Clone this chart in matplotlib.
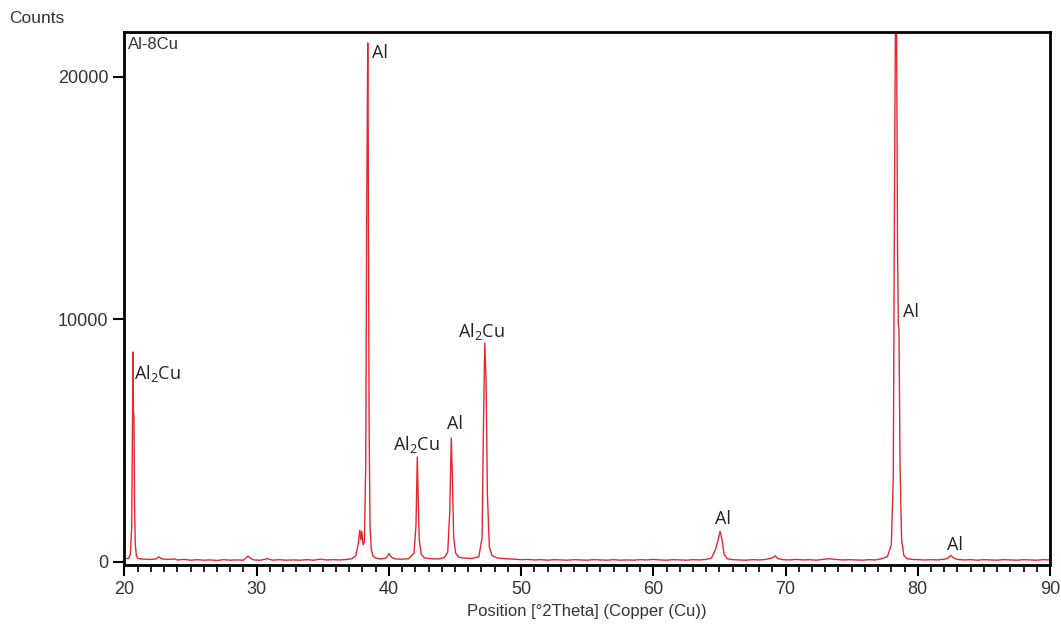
import matplotlib
matplotlib.use("Agg")
import matplotlib.pyplot as plt
from matplotlib.ticker import MultipleLocator

# XRD pattern of Al-8Cu: (2theta [deg], counts)
pattern = [
    (20.0, 120), (20.3, 130), (20.45, 300), (20.55, 1500), (20.6, 5200),
    (20.65, 8650), (20.68, 6200), (20.72, 6000), (20.76, 2500), (20.82, 700),
    (20.9, 250), (21.0, 130), (21.5, 100), (22.0, 90), (22.4, 110), (22.6, 200),
    (22.8, 120), (23.2, 90), (23.8, 110), (24.0, 70), (24.5, 90), (25.0, 60),
    (25.5, 80), (26.0, 60), (26.5, 70), (27.0, 50), (27.5, 80), (28.0, 60),
    (28.5, 70), (29.0, 60), (29.35, 230), (29.5, 150), (29.8, 70), (30.3, 60),
    (30.8, 120), (31.2, 60), (31.7, 80), (32.2, 60), (32.8, 70), (33.3, 60),
    (33.8, 80), (34.3, 60), (34.8, 100), (35.3, 70), (35.8, 80), (36.3, 70),
    (36.8, 90), (37.2, 120), (37.5, 250), (37.7, 800), (37.8, 1300),
    (37.88, 900), (37.95, 1250), (38.05, 700), (38.15, 800), (38.25, 4000),
    (38.32, 14000), (38.4, 21400), (38.44, 17000), (38.5, 6000),
    (38.57, 1500), (38.67, 500), (38.8, 220), (39.0, 150), (39.4, 110),
    (39.8, 150), (40.0, 330), (40.2, 180), (40.5, 110), (41.0, 100),
    (41.5, 120), (41.9, 350), (42.05, 1500), (42.15, 4320), (42.22, 2500),
    (42.3, 900), (42.45, 300), (42.7, 150), (43.2, 120), (43.7, 110),
    (44.2, 160), (44.45, 400), (44.6, 2000), (44.72, 5100), (44.8, 3500),
    (44.9, 1000), (45.05, 350), (45.3, 180), (45.8, 140), (46.3, 130),
    (46.8, 200), (47.05, 1000), (47.15, 5500), (47.25, 9020), (47.35, 7500),
    (47.45, 2800), (47.6, 600), (47.8, 250), (48.2, 150), (48.8, 120),
    (49.5, 100), (50.0, 80), (50.5, 90), (51.0, 70), (51.5, 80), (52.0, 60),
    (52.5, 80), (53.0, 70), (53.5, 60), (54.0, 80), (54.5, 70), (55.0, 60),
    (55.5, 80), (56.0, 70), (56.5, 60), (57.0, 80), (57.5, 60), (58.0, 70),
    (58.5, 60), (59.0, 80), (59.5, 70), (60.0, 90), (60.5, 70), (61.0, 60),
    (61.5, 80), (62.0, 70), (62.5, 60), (63.0, 80), (63.5, 70), (64.0, 90),
    (64.4, 150), (64.7, 500), (64.9, 900), (65.05, 1250), (65.2, 900),
    (65.35, 300), (65.6, 120), (66.0, 80), (66.5, 70), (67.0, 60), (67.5, 80),
    (68.0, 70), (68.5, 90), (69.0, 150), (69.2, 240), (69.4, 130), (69.8, 80),
    (70.3, 70), (70.8, 90), (71.3, 70), (71.8, 80), (72.3, 60), (72.8, 90),
    (73.3, 120), (73.8, 90), (74.3, 70), (74.8, 80), (75.3, 70), (75.8, 60),
    (76.3, 80), (76.8, 70), (77.2, 110), (77.7, 200), (78.0, 700),
    (78.15, 3500), (78.25, 16000), (78.32, 23000), (78.4, 22000),
    (78.47, 13000), (78.53, 9800), (78.58, 9600), (78.66, 4000), (78.78, 900),
    (78.95, 250), (79.2, 120), (79.6, 90), (80.0, 80), (80.5, 70), (81.0, 80),
    (81.5, 70), (82.0, 100), (82.3, 150), (82.5, 260), (82.7, 150), (83.0, 90),
    (83.5, 70), (84.0, 80), (84.5, 60), (85.0, 80), (85.5, 70), (86.0, 60),
    (86.5, 80), (87.0, 70), (87.5, 60), (88.0, 80), (88.5, 70), (89.0, 60),
    (89.5, 80), (90.0, 70),
]
two_theta = [p[0] for p in pattern]
counts = [p[1] for p in pattern]

# phase labels: text, x, y
label_text = ["Al$_2$Cu", "Al", "Al$_2$Cu", "Al", "Al$_2$Cu", "Al", "Al", "Al"]
label_x = [20.75, 38.7, 40.3, 44.4, 45.2, 64.7, 78.9, 82.2]
label_y = [7750, 21000, 4850, 5680, 9480, 1740, 10300, 700]

plt.rcParams["mathtext.fontset"] = "custom"
plt.rcParams["mathtext.rm"] = "Open Sans"
plt.rcParams["mathtext.it"] = "Open Sans"

txt = "#333340"
fig = plt.figure(figsize=(10.61, 6.33), dpi=100)
ax = fig.add_axes([0.1173, 0.1074, 0.8723, 0.842])

ax.plot(two_theta, counts, color="#e8262e", linewidth=1.0, clip_on=True)

for t, x, y in zip(label_text, label_x, label_y):
    ax.text(x, y, t, fontsize=13, family="Open Sans", color="#222222",
            ha="left", va="center")

ax.set_xlim(20, 90)
ax.set_ylim(-140, 21850)
ax.xaxis.set_major_locator(MultipleLocator(10))
ax.xaxis.set_minor_locator(MultipleLocator(1))
ax.set_yticks([0, 10000, 20000])

for s in ax.spines.values():
    s.set_linewidth(2)
    s.set_color("black")

ax.tick_params(axis="both", which="major", direction="out", length=8, width=1.5,
               colors="black", labelcolor=txt, labelsize=13,
               labelfontfamily="Liberation Sans")
ax.tick_params(axis="x", which="minor", direction="out", length=5, width=1.2,
               colors="black")

ax.set_xlabel("Position [°2Theta] (Copper (Cu))", fontsize=12, color=txt,
              family="Liberation Sans", labelpad=4)
fig.text(0.009, 0.971, "Counts", fontsize=12.5, color=txt,
         family="Liberation Sans", ha="left", va="center")
ax.text(0.004, 0.99, "Al-8Cu", transform=ax.transAxes, fontsize=12,
        color=txt, family="Liberation Sans", ha="left", va="top")

fig.savefig("out.png", dpi=100)
